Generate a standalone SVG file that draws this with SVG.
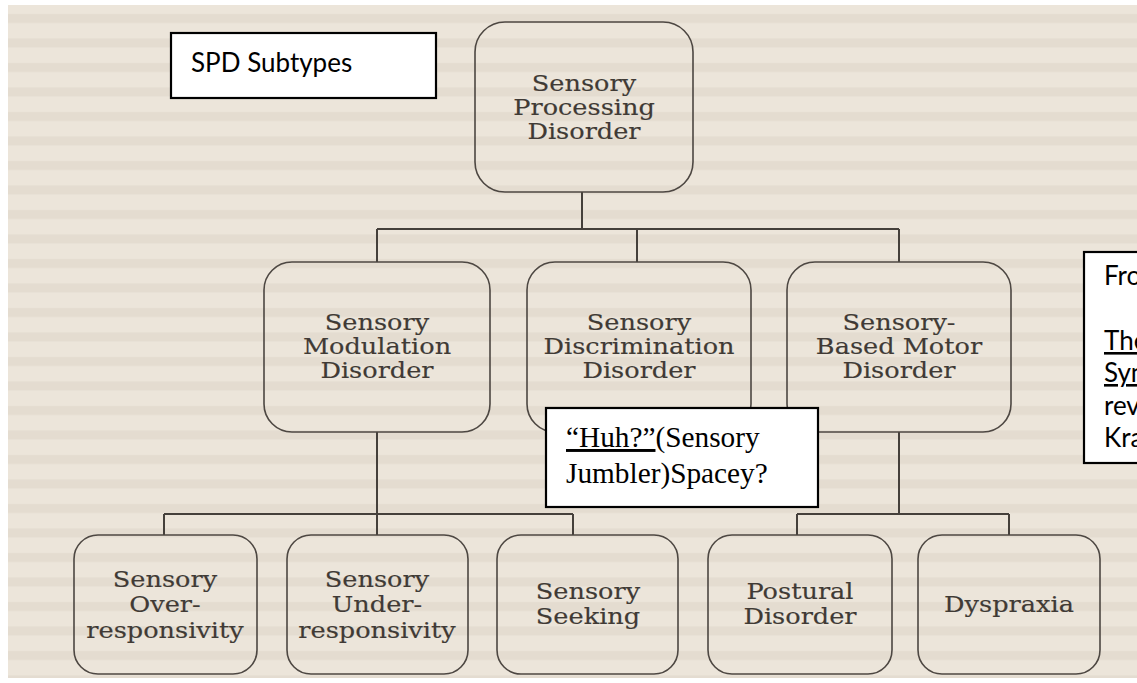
<svg xmlns="http://www.w3.org/2000/svg" width="1137" height="683" viewBox="0 0 1137 683">
<defs>
<pattern id="rows" x="0" y="6" width="1137" height="24.5" patternUnits="userSpaceOnUse">
<rect x="0" y="8" width="1137" height="9" fill="#d3c8ba" opacity="0.3"/>
</pattern>
<style>
.node rect { fill: none; stroke: #4d4742; stroke-width: 1.6; }
.lbl { font-family: "DejaVu Serif", "Liberation Serif", serif; font-size: 21.5px; fill: #403a35; stroke: #403a35; stroke-width: 0.15; text-anchor: middle; }
.conn line { stroke: #45403b; stroke-width: 2; }
.note rect { fill: #ffffff; stroke: #000000; stroke-width: 2.2; }
.cal { font-family: Lato, "Open Sans", "Liberation Sans", sans-serif; font-size: 26px; fill: #000000; }
.tnr { font-family: "Liberation Serif", "Times New Roman", serif; font-size: 29.3px; fill: #000000; }
</style>
</defs>
<rect width="1137" height="683" fill="#ffffff"/>
<rect x="8" y="5" width="1129" height="673" fill="#ece5da"/>
<rect x="8" y="5" width="1129" height="673" fill="url(#rows)"/>

<g id="connectors" class="conn">
<line x1="582" y1="192" x2="582" y2="229"/>
<line x1="377" y1="229" x2="899" y2="229"/>
<line x1="377" y1="229" x2="377" y2="262"/>
<line x1="637" y1="229" x2="637" y2="262"/>
<line x1="899" y1="229" x2="899" y2="262"/>
<line x1="377" y1="432" x2="377" y2="535"/>
<line x1="164" y1="514" x2="573" y2="514"/>
<line x1="164" y1="514" x2="164" y2="535"/>
<line x1="573" y1="514" x2="573" y2="535"/>
<line x1="899" y1="432" x2="899" y2="514"/>
<line x1="797" y1="514" x2="1009" y2="514"/>
<line x1="797" y1="514" x2="797" y2="535"/>
<line x1="1009" y1="514" x2="1009" y2="535"/>
</g>

<g id="spd" class="node">
<rect x="475" y="22" width="218" height="170" rx="30"/>
<text class="lbl" transform="translate(584 0) scale(1.19 1)"><tspan x="0" y="91">Sensory</tspan><tspan x="0" y="115">Processing</tspan><tspan x="0" y="139">Disorder</tspan></text>
</g>

<g id="smd" class="node">
<rect x="264" y="262" width="226" height="170" rx="28"/>
<text class="lbl" transform="translate(377 0) scale(1.19 1)"><tspan x="0" y="330">Sensory</tspan><tspan x="0" y="354">Modulation</tspan><tspan x="0" y="378">Disorder</tspan></text>
</g>

<g id="sdd" class="node">
<rect x="527" y="262" width="224" height="170" rx="28"/>
<text class="lbl" transform="translate(639 0) scale(1.19 1)"><tspan x="0" y="330">Sensory</tspan><tspan x="0" y="354">Discrimination</tspan><tspan x="0" y="378">Disorder</tspan></text>
</g>

<g id="sbmd" class="node">
<rect x="787" y="262" width="224" height="170" rx="28"/>
<text class="lbl" transform="translate(899 0) scale(1.19 1)"><tspan x="0" y="330">Sensory-</tspan><tspan x="0" y="354">Based Motor</tspan><tspan x="0" y="378">Disorder</tspan></text>
</g>

<g id="sor" class="node">
<rect x="74" y="535" width="183" height="139" rx="24"/>
<text class="lbl" transform="translate(165 0) scale(1.19 1)"><tspan x="0" y="587">Sensory</tspan><tspan x="0" y="612">Over-</tspan><tspan x="0" y="638">responsivity</tspan></text>
</g>

<g id="sur" class="node">
<rect x="287" y="535" width="181" height="139" rx="24"/>
<text class="lbl" transform="translate(377 0) scale(1.19 1)"><tspan x="0" y="587">Sensory</tspan><tspan x="0" y="612">Under-</tspan><tspan x="0" y="638">responsivity</tspan></text>
</g>

<g id="ss" class="node">
<rect x="497" y="535" width="181" height="139" rx="24"/>
<text class="lbl" transform="translate(588 0) scale(1.19 1)"><tspan x="0" y="599">Sensory</tspan><tspan x="0" y="624">Seeking</tspan></text>
</g>

<g id="pd" class="node">
<rect x="708" y="535" width="184" height="139" rx="24"/>
<text class="lbl" transform="translate(800 0) scale(1.19 1)"><tspan x="0" y="599">Postural</tspan><tspan x="0" y="624">Disorder</tspan></text>
</g>

<g id="dys" class="node">
<rect x="918" y="535" width="182" height="139" rx="24"/>
<text class="lbl" transform="translate(1009 0) scale(1.19 1)"><tspan x="0" y="612">Dyspraxia</tspan></text>
</g>

<g id="title" class="note">
<rect x="171" y="33" width="265" height="65"/>
<text class="cal" x="191" y="72">SPD Subtypes</text>
</g>

<g id="huh" class="note">
<rect x="546" y="408" width="272" height="99"/>
<text class="tnr" x="566" y="447"><tspan text-decoration="underline">“Huh?”</tspan>(Sensory</text>
<text class="tnr" x="566" y="483">Jumbler)Spacey?</text>
</g>

<g id="source" class="note">
<rect x="1084" y="252" width="70" height="211"/>
<text class="cal" x="1104" y="285">Fro</text>
<text class="cal" x="1104" y="350" text-decoration="underline">The</text>
<text class="cal" x="1104" y="382" text-decoration="underline">Syn</text>
<text class="cal" x="1104" y="415">revi</text>
<text class="cal" x="1104" y="447">Kra</text>
</g>
</svg>
